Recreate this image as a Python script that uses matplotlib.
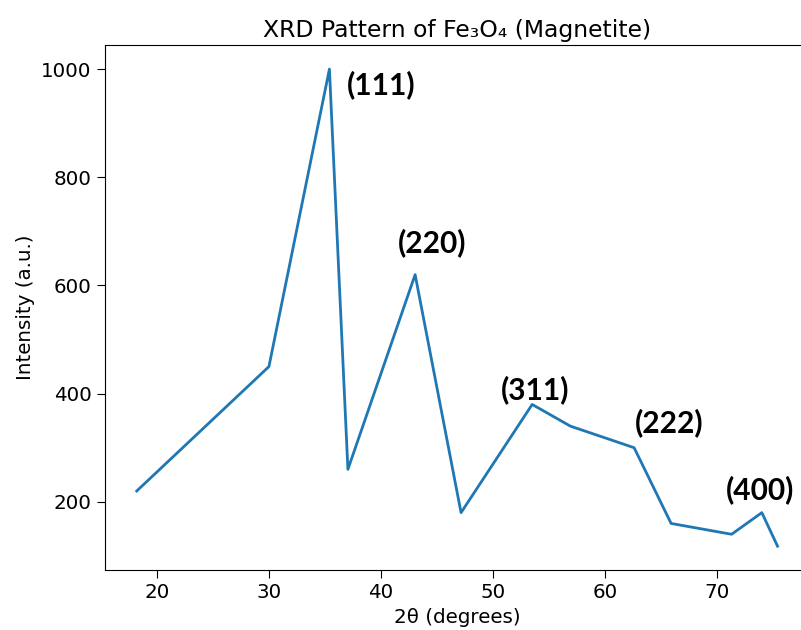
import matplotlib
matplotlib.use("Agg")
import matplotlib.pyplot as plt

# 2theta positions and intensities
two_theta = [18.2, 30.0, 35.4, 37.05, 43.05, 47.15, 53.5, 56.9, 62.6, 65.9, 71.3, 74.0, 75.4]
intensity = [220, 450, 1000, 260, 620, 180, 380, 340, 300, 160, 140, 180, 118]

# peak labels and where they sit (data coords)
peak_labels = ["(111)", "(220)", "(311)", "(222)", "(400)"]
label_x = [37.0, 41.5, 50.7, 62.7, 70.8]
label_y = [972, 680, 408, 347, 222]

fig = plt.figure(figsize=(8.01, 6.30), dpi=100)
ax = fig.add_axes([0.1307, 0.0952, 0.880, 0.833])

ax.plot(two_theta, intensity, color='#1f77b4', linewidth=2.0)

for txt, x, y in zip(peak_labels, label_x, label_y):
    ax.text(x, y, txt, fontsize=21.5, fontweight='bold', family='Lato',
            ha='left', va='center', color='black')

ax.set_title("XRD Pattern of Fe\u2083O\u2084 (Magnetite)", fontsize=16.9)
ax.set_xlabel("2\u03b8 (degrees)", fontsize=14.3)
ax.set_ylabel("Intensity (a.u.)", fontsize=14.3)
ax.tick_params(labelsize=14.3, length=6)
ax.set_xticks([20, 30, 40, 50, 60, 70])
ax.set_yticks([200, 400, 600, 800, 1000])

fig.savefig("out.png", dpi=100)
